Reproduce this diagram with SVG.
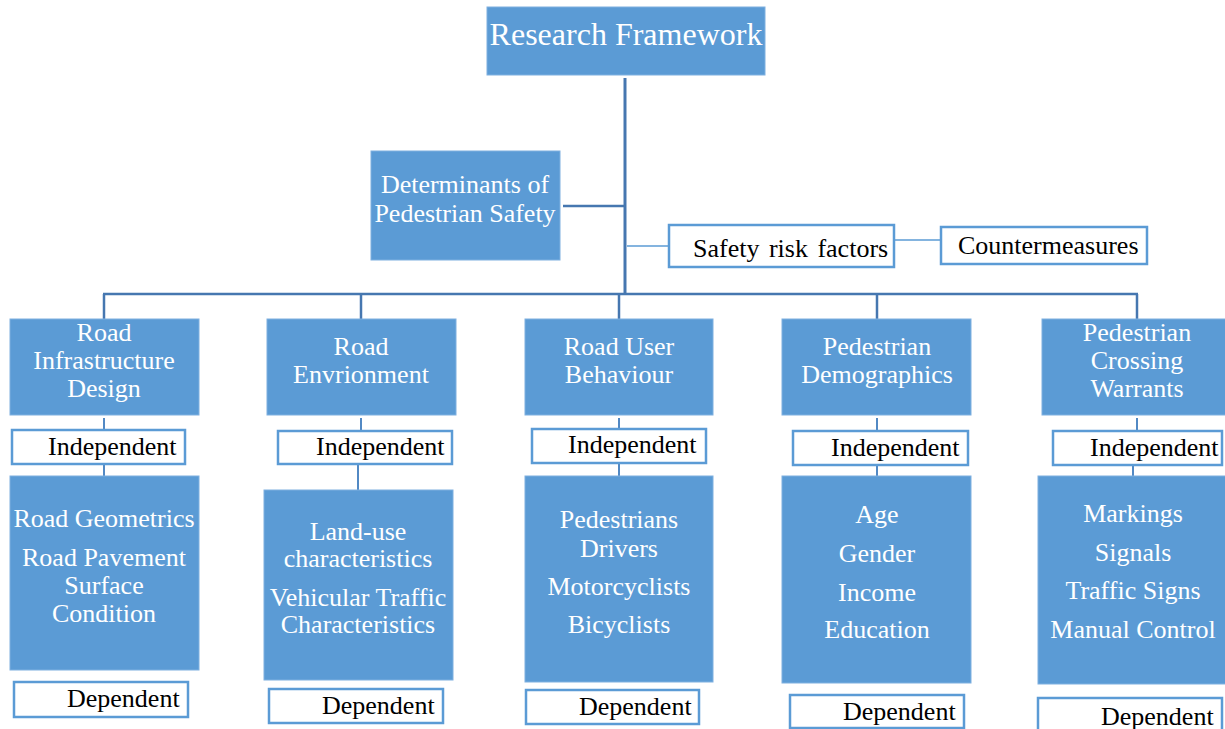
<svg xmlns="http://www.w3.org/2000/svg" width="1225" height="729" viewBox="0 0 1225 729">
  <style>
    .fill { fill: #5b9bd5; stroke: #7fb0e0; stroke-width: 1; }
    .outline { fill: #ffffff; stroke: #5b9bd5; stroke-width: 2.5; }
    .wt { font-family: "Liberation Serif", "Times New Roman", serif; font-size: 26px; fill: #ffffff; text-anchor: middle; }
    .bt { font-family: "Liberation Serif", "Times New Roman", serif; font-size: 26px; fill: #000000; }
    .main { stroke: #4677b0; stroke-width: 3; fill: none; }
    .bus { stroke: #4677b0; stroke-width: 2.5; fill: none; }
    .thin { stroke: #5b9bd5; stroke-width: 1.5; fill: none; }
    .drop { stroke: #5289c4; stroke-width: 2; fill: none; }
  </style>

  <!-- connectors -->
  <g id="connectors">
    <line class="main" x1="625" y1="78" x2="625" y2="295"/>
    <line class="bus" x1="563" y1="206" x2="625" y2="206"/>
    <line class="thin" x1="627" y1="246" x2="669" y2="246"/>
    <line class="thin" x1="894" y1="240" x2="941" y2="240"/>
    <line class="bus" x1="103" y1="294" x2="1138" y2="294"/>
    <line class="bus" x1="104" y1="294" x2="104" y2="319"/>
    <line class="bus" x1="361" y1="294" x2="361" y2="319"/>
    <line class="bus" x1="619" y1="294" x2="619" y2="319"/>
    <line class="bus" x1="877" y1="294" x2="877" y2="319"/>
    <line class="bus" x1="1137" y1="294" x2="1137" y2="319"/>
    <!-- column stems -->
    <line class="drop" x1="104" y1="418" x2="104" y2="476"/>
    <line class="drop" x1="361" y1="418" x2="361" y2="431"/>
    <line class="drop" x1="358" y1="464" x2="358" y2="490"/>
    <line class="drop" x1="619" y1="418" x2="619" y2="476"/>
    <line class="drop" x1="877" y1="418" x2="877" y2="476"/>
    <line class="drop" x1="1137" y1="418" x2="1137" y2="431"/>
    <line class="drop" x1="1133" y1="464" x2="1133" y2="476"/>
  </g>

  <!-- top level -->
  <g id="research-framework">
    <rect class="fill" x="487" y="7" width="278" height="68"/>
    <text class="wt" x="626" y="45" style="font-size:32px">Research Framework</text>
  </g>

  <g id="determinants">
    <rect class="fill" x="371" y="151" width="189" height="109"/>
    <text class="wt" x="465" y="193">Determinants of</text>
    <text class="wt" x="465" y="222">Pedestrian Safety</text>
  </g>

  <g id="safety-risk-factors">
    <rect class="outline" x="669" y="225" width="225" height="42"/>
    <text class="bt" x="693" y="257" style="word-spacing:3px">Safety risk factors</text>
  </g>

  <g id="countermeasures">
    <rect class="outline" x="941" y="227" width="206" height="37"/>
    <text class="bt" x="958" y="254">Countermeasures</text>
  </g>

  <!-- column 1 -->
  <g id="road-infrastructure-design">
    <rect class="fill" x="10" y="319" width="189" height="96"/>
    <text class="wt" x="104" y="341">Road</text>
    <text class="wt" x="104" y="369">Infrastructure</text>
    <text class="wt" x="104" y="397">Design</text>
  </g>
  <g id="independent-1">
    <rect class="outline" x="12" y="430" width="173" height="34"/>
    <text class="bt" x="48" y="455">Independent</text>
  </g>
  <g id="infrastructure-factors">
    <rect class="fill" x="10" y="476" width="189" height="194"/>
    <text class="wt" x="104" y="527">Road Geometrics</text>
    <text class="wt" x="104" y="566">Road Pavement</text>
    <text class="wt" x="104" y="594">Surface</text>
    <text class="wt" x="104" y="622">Condition</text>
  </g>
  <g id="dependent-1">
    <rect class="outline" x="14" y="682" width="174" height="35"/>
    <text class="bt" x="67" y="707">Dependent</text>
  </g>

  <!-- column 2 -->
  <g id="road-environment">
    <rect class="fill" x="267" y="319" width="189" height="96"/>
    <text class="wt" x="361" y="355">Road</text>
    <text class="wt" x="361" y="383">Envrionment</text>
  </g>
  <g id="independent-2">
    <rect class="outline" x="278" y="431" width="174" height="33"/>
    <text class="bt" x="316" y="455">Independent</text>
  </g>
  <g id="environment-factors">
    <rect class="fill" x="264" y="490" width="189" height="190"/>
    <text class="wt" x="358" y="540">Land-use</text>
    <text class="wt" x="358" y="567">characteristics</text>
    <text class="wt" x="358" y="606">Vehicular Traffic</text>
    <text class="wt" x="358" y="633">Characteristics</text>
  </g>
  <g id="dependent-2">
    <rect class="outline" x="269" y="689" width="174" height="34"/>
    <text class="bt" x="322" y="714">Dependent</text>
  </g>

  <!-- column 3 -->
  <g id="road-user-behaviour">
    <rect class="fill" x="525" y="319" width="188" height="96"/>
    <text class="wt" x="619" y="355">Road User</text>
    <text class="wt" x="619" y="383">Behaviour</text>
  </g>
  <g id="independent-3">
    <rect class="outline" x="532" y="429" width="174" height="34"/>
    <text class="bt" x="568" y="453">Independent</text>
  </g>
  <g id="road-users">
    <rect class="fill" x="525" y="476" width="188" height="206"/>
    <text class="wt" x="619" y="528">Pedestrians</text>
    <text class="wt" x="619" y="557">Drivers</text>
    <text class="wt" x="619" y="595">Motorcyclists</text>
    <text class="wt" x="619" y="633">Bicyclists</text>
  </g>
  <g id="dependent-3">
    <rect class="outline" x="526" y="690" width="173" height="34"/>
    <text class="bt" x="579" y="715">Dependent</text>
  </g>

  <!-- column 4 -->
  <g id="pedestrian-demographics">
    <rect class="fill" x="782" y="319" width="189" height="96"/>
    <text class="wt" x="877" y="355">Pedestrian</text>
    <text class="wt" x="877" y="383">Demographics</text>
  </g>
  <g id="independent-4">
    <rect class="outline" x="793" y="431" width="175" height="34"/>
    <text class="bt" x="831" y="456">Independent</text>
  </g>
  <g id="demographic-factors">
    <rect class="fill" x="782" y="476" width="189" height="207"/>
    <text class="wt" x="877" y="523">Age</text>
    <text class="wt" x="877" y="562">Gender</text>
    <text class="wt" x="877" y="601">Income</text>
    <text class="wt" x="877" y="638">Education</text>
  </g>
  <g id="dependent-4">
    <rect class="outline" x="790" y="695" width="174" height="33"/>
    <text class="bt" x="843" y="720">Dependent</text>
  </g>

  <!-- column 5 -->
  <g id="pedestrian-crossing-warrants">
    <rect class="fill" x="1042" y="319" width="186" height="96"/>
    <text class="wt" x="1137" y="341">Pedestrian</text>
    <text class="wt" x="1137" y="369">Crossing</text>
    <text class="wt" x="1137" y="397">Warrants</text>
  </g>
  <g id="independent-5">
    <rect class="outline" x="1053" y="431" width="169" height="34"/>
    <text class="bt" x="1090" y="456">Independent</text>
  </g>
  <g id="crossing-controls">
    <rect class="fill" x="1038" y="476" width="190" height="208"/>
    <text class="wt" x="1133" y="522">Markings</text>
    <text class="wt" x="1133" y="561">Signals</text>
    <text class="wt" x="1133" y="599">Traffic Signs</text>
    <text class="wt" x="1133" y="638">Manual Control</text>
  </g>
  <g id="dependent-5">
    <rect class="outline" x="1038" y="698" width="184" height="40"/>
    <text class="bt" x="1101" y="725">Dependent</text>
  </g>
</svg>
